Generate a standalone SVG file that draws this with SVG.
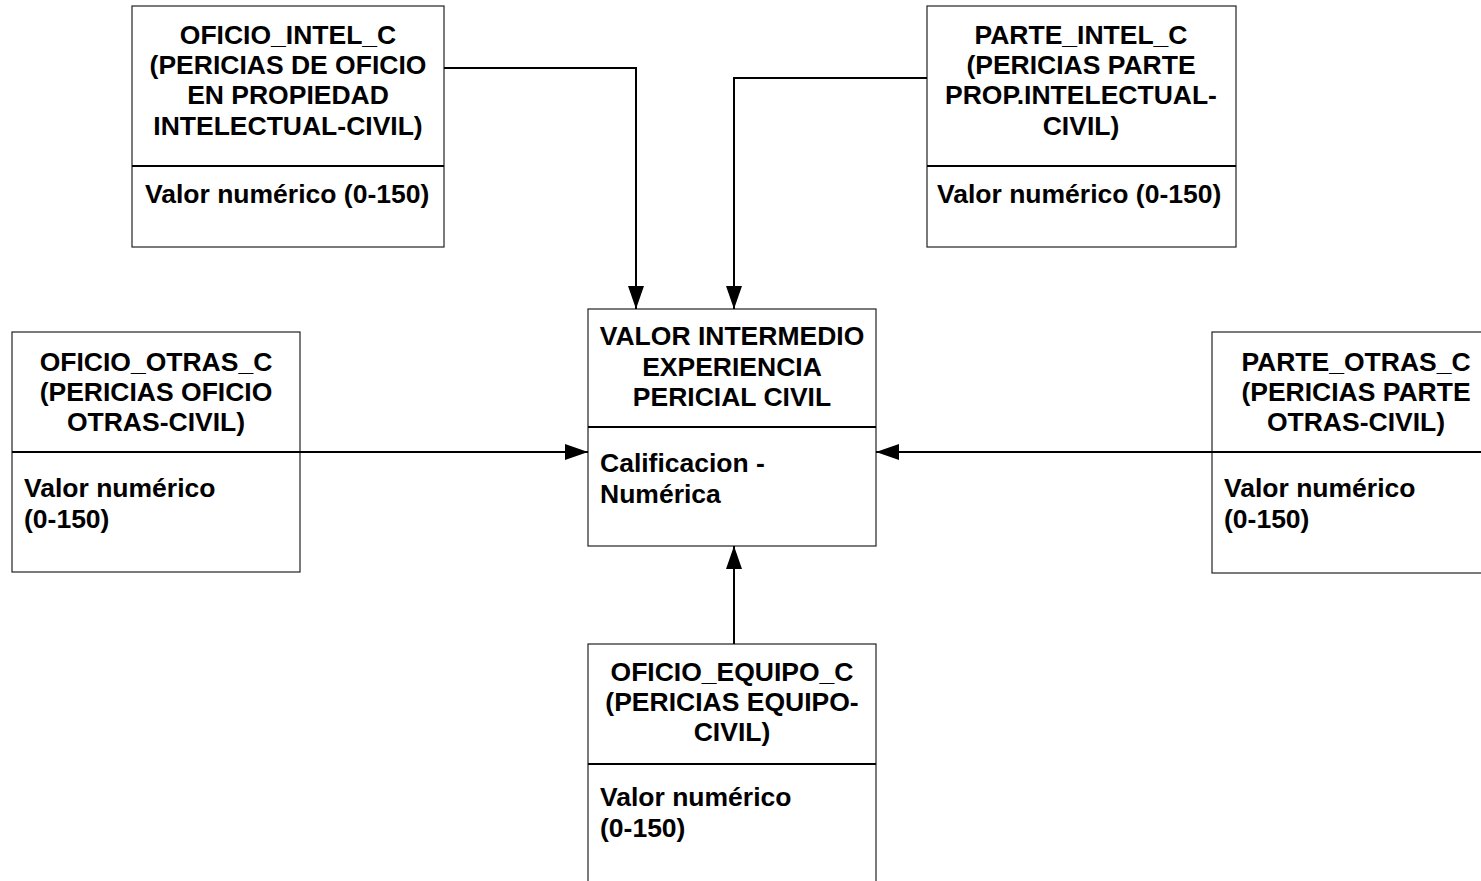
<svg xmlns="http://www.w3.org/2000/svg" width="1481" height="881" viewBox="0 0 1481 881">
<defs>
<style>
.box{fill:#fff;stroke:#222;stroke-width:1.2}
.div{stroke:#000;stroke-width:2}
.t{font-family:"Liberation Sans",Arial,sans-serif;font-weight:bold;font-size:26.5px;fill:#000}
.c{text-anchor:middle}
.con{fill:none;stroke:#000;stroke-width:2}
</style>
<marker id="arr" markerUnits="userSpaceOnUse" markerWidth="24" markerHeight="18" refX="23" refY="8" orient="auto">
<path d="M0,0 L23,8 L0,16 Z" fill="#000"/>
</marker>
</defs>
<rect width="1481" height="881" fill="#fff"/>

<g id="oficio_intel">
<rect class="box" x="132" y="6" width="312" height="241"/>
<line class="div" x1="132" y1="166" x2="444" y2="166"/>
<text class="t c" x="288" y="43.5">OFICIO_INTEL_C</text>
<text class="t c" x="288" y="73.5">(PERICIAS DE OFICIO</text>
<text class="t c" x="288" y="104">EN PROPIEDAD</text>
<text class="t c" x="288" y="134.5">INTELECTUAL-CIVIL)</text>
<text class="t" x="145" y="203">Valor numérico (0-150)</text>
</g>

<g id="parte_intel">
<rect class="box" x="927" y="6" width="309" height="241"/>
<line class="div" x1="927" y1="166" x2="1236" y2="166"/>
<text class="t c" x="1081" y="43.5">PARTE_INTEL_C</text>
<text class="t c" x="1081" y="73.5">(PERICIAS PARTE</text>
<text class="t c" x="1081" y="104">PROP.INTELECTUAL-</text>
<text class="t c" x="1081" y="134.5">CIVIL)</text>
<text class="t" x="937" y="203">Valor numérico (0-150)</text>
</g>

<g id="valor_intermedio">
<rect class="box" x="588" y="309" width="288" height="237"/>
<line class="div" x1="588" y1="427" x2="876" y2="427"/>
<text class="t c" x="732" y="345">VALOR INTERMEDIO</text>
<text class="t c" x="732" y="375.5">EXPERIENCIA</text>
<text class="t c" x="732" y="406">PERICIAL CIVIL</text>
<text class="t" x="600" y="472">Calificacion -</text>
<text class="t" x="600" y="503">Numérica</text>
</g>

<g id="oficio_otras">
<rect class="box" x="12" y="332" width="288" height="240"/>
<line class="div" x1="12" y1="452" x2="300" y2="452"/>
<text class="t c" x="156" y="371">OFICIO_OTRAS_C</text>
<text class="t c" x="156" y="401">(PERICIAS OFICIO</text>
<text class="t c" x="156" y="431">OTRAS-CIVIL)</text>
<text class="t" x="24" y="497">Valor numérico</text>
<text class="t" x="24" y="528">(0-150)</text>
</g>

<g id="parte_otras">
<rect class="box" x="1212" y="332" width="288" height="241"/>
<line class="div" x1="1212" y1="452" x2="1500" y2="452"/>
<text class="t c" x="1356" y="371">PARTE_OTRAS_C</text>
<text class="t c" x="1356" y="401">(PERICIAS PARTE</text>
<text class="t c" x="1356" y="431">OTRAS-CIVIL)</text>
<text class="t" x="1224" y="497">Valor numérico</text>
<text class="t" x="1224" y="528">(0-150)</text>
</g>

<g id="oficio_equipo">
<rect class="box" x="588" y="644" width="288" height="260"/>
<line class="div" x1="588" y1="764" x2="876" y2="764"/>
<text class="t c" x="732" y="681">OFICIO_EQUIPO_C</text>
<text class="t c" x="732" y="711">(PERICIAS EQUIPO-</text>
<text class="t c" x="732" y="741">CIVIL)</text>
<text class="t" x="600" y="806">Valor numérico</text>
<text class="t" x="600" y="837">(0-150)</text>
</g>

<g id="connectors">
<polyline class="con" points="444,68 636,68 636,309" marker-end="url(#arr)"/>
<polyline class="con" points="927,78 734,78 734,309" marker-end="url(#arr)"/>
<line class="con" x1="300" y1="452" x2="588" y2="452" marker-end="url(#arr)"/>
<line class="con" x1="1212" y1="452" x2="876" y2="452" marker-end="url(#arr)"/>
<line class="con" x1="734" y1="644" x2="734" y2="546" marker-end="url(#arr)"/>
</g>
</svg>
